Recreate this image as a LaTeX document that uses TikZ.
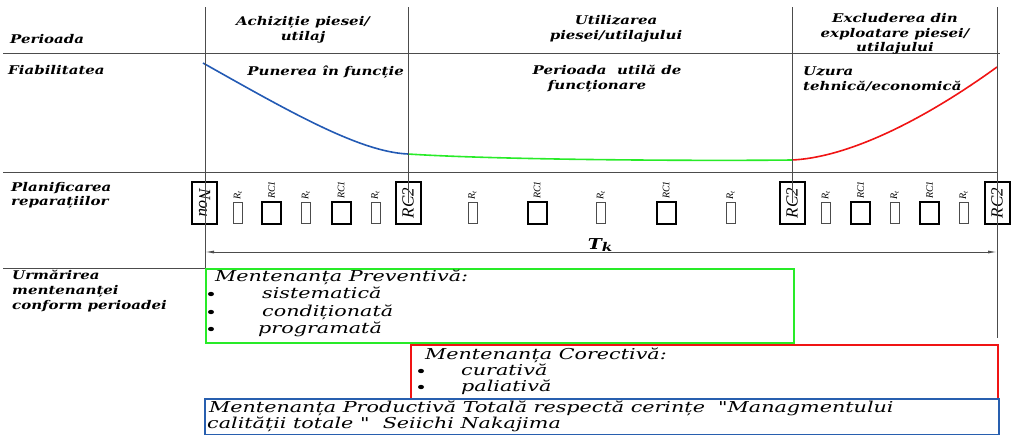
\documentclass[tikz,border=0pt]{standalone}
\usepackage{fontspec}
\usetikzlibrary{arrows.meta}
\newfontfamily\labfont[FakeStretch=1.25]{DejaVu Serif}
\newfontfamily\boxfont[FakeStretch=1.38]{DejaVu Serif}
\newfontfamily\smfont{Liberation Serif}
\definecolor{cblue}{RGB}{35,90,180}
\definecolor{cgreen}{RGB}{40,235,40}
\definecolor{cred}{RGB}{240,20,20}
\definecolor{cbbox}{RGB}{40,95,175}
\tikzset{
  lab/.style={font=\labfont\bfseries\itshape\fontsize{12}{14}\selectfont, inner sep=0pt, anchor=base west},
  labc/.style={lab, anchor=base},
  bx/.style={font=\boxfont\itshape\fontsize{15}{17}\selectfont, inner sep=0pt, anchor=base west},
  gridline/.style={draw=black!70, line width=0.9pt},
  bigbox/.style={draw, line width=2pt, minimum width=42pt, minimum height=25pt, inner sep=0pt, font=\smfont\itshape\fontsize{17}{17}\selectfont},
  rcbox/.style={draw, line width=2pt, minimum width=19pt, minimum height=22pt, inner sep=0pt},
  rtbox/.style={draw=black!70, line width=0.8pt, minimum width=9pt, minimum height=21pt, inner sep=0pt},
  smalllab/.style={font=\smfont\itshape\fontsize{10}{10}\selectfont, rotate=90, inner sep=0pt},
  curve/.style={line width=1.6pt},
  bul/.style={fill=black}
}
\begin{document}
\begin{tikzpicture}[x=1pt,y=-1pt]
\useasboundingbox (0,0) rectangle (1012,434);
% grid lines
\draw[gridline] (3,53) -- (1000,53);
\draw[gridline] (3,172) -- (998,172);
\draw[gridline] (3,268) -- (205,268);
% left labels
\node[lab] (per) at (10,43) {Perioada};
\node[lab] (fia) at (8,74) {Fiabilitatea};
\node[lab] (pla1) at (11,191) {Planificarea};
\node[lab] (pla2) at (11,205) {reparațiilor};
\node[lab] (urm1) at (12,279) {Urmărirea};
\node[lab] (urm2) at (12,294) {mentenanței};
\node[lab] (urm3) at (12,309) {conform perioadei};
% headers
\node[labc] (h1a) at (303,25) {Achiziție piesei/};
\node[labc] (h1b) at (303,40) {utilaj};
\node[labc] (h2a) at (616,24) {Utilizarea};
\node[labc] (h2b) at (616,39) {piesei/utilajului};
\node[labc] (h3a) at (895,22) {Excluderea din};
\node[labc] (h3b) at (895,37) {exploatare piesei/};
\node[labc] (h3c) at (895,51) {utilajului};
% fiabilitate row
\node[lab, anchor=base east] (f1) at (404,75) {Punerea în funcție};
\node[labc] (f2a) at (607,74) {Perioada \ utilă de};
\node[labc] (f2b) at (597,89) {funcționare};
\node[lab] (f3a) at (803,75) {Uzura};
\node[lab] (f3b) at (803,90) {tehnică/economică};
% curves
\coordinate (c0) at (203,63);
\coordinate (c1) at (408,154);
\coordinate (c2) at (792,160);
\coordinate (c3) at (997,67);
\draw[curve, cblue] (c0) .. controls (290,112) and (360,152) .. (c1);
\draw[curve, cgreen] (c1) .. controls (500,160) and (700,161) .. (c2);
\draw[curve, cred] (c2) .. controls (855,157) and (935,112) .. (c3);
% big boxes
\node[bigbox, rotate=-90] (b1) at (204.5,203) {Nou};
\node[bigbox, rotate=90] (b2) at (408,203) {RC2};
\node[bigbox, rotate=90] (b3) at (792,203) {RC2};
\node[bigbox, rotate=90] (b4) at (997,203) {RC2};
% small boxes
\foreach \x [count=\i] in {238,306,375.5,472.5,601,730.6,826,894.5,963.5}{
  \node[rtbox] (rt\i) at (\x,213) {};
  \node[smalllab] (rtl\i) at (\x,195.5) {R\textsubscript{t}};
}
\foreach \x [count=\i] in {271.5,341,537,666,860.5,929.5}{
  \node[rcbox] (rc\i) at (\x,213) {};
  \node[smalllab] (rcl\i) at (\x,190) {RC1};
}
% maintenance boxes
\node[draw=cgreen, line width=2pt, minimum width=588pt, minimum height=74pt, inner sep=0pt, anchor=north west] (prev) at (205,268) {};
\node[draw=cred, line width=2pt, minimum width=587pt, minimum height=54pt, inner sep=0pt, anchor=north west] (cor) at (410,344) {};
\node[draw=cbbox, line width=2pt, minimum width=794pt, minimum height=36pt, inner sep=0pt, anchor=north west] (tot) at (204,398) {};
% vertical lines
\coordinate (v1) at (205,7);
\coordinate (v2) at (408,7);
\coordinate (v3) at (792,7);
\coordinate (v4) at (997,7);
\coordinate (v4e) at (997,338);
\draw[gridline] (v1) -- (v1 |- b1.north);
\draw[gridline] (v2) -- (v2 |- b2.north);
\draw[gridline] (v3) -- (v3 |- b3.north);
\draw[gridline] (v4) -- (v4 |- b4.north);
\draw[gridline] (v1 |- b1.south) -- (v1 |- prev.north);
\draw[gridline] (v4 |- b4.south) -- (v4e);
% Tk arrow
\coordinate (a1) at (205,252);
\coordinate (a2) at (997,252);
\draw[gridline, {Latex[length=9pt,width=3pt]}-{Latex[length=9pt,width=3pt]}] (a1) -- (a2);
\node[labc, font=\labfont\bfseries\itshape\fontsize{15}{15}\selectfont] (tk) at (600,249) {T\raisebox{-2pt}{\fontsize{12}{12}\selectfont k}};
% box texts
\node[bx] (p0) at (215,281) {Mentenanța Preventivă:};
\node[bx] (p1) at (262,298) {sistematică};
\node[bx] (p2) at (262,316) {condiționată};
\node[bx] (p3) at (258,333) {programată};
\foreach \y in {294,312,329}{\fill[bul] (211,\y) ellipse (3pt and 2.2pt);}
\node[bx] (k0) at (425,359) {Mentenanța Corectivă:};
\node[bx] (k1) at (461,375) {curativă};
\node[bx] (k2) at (461,391) {paliativă};
\foreach \y in {371,387}{\fill[bul] (421,\y) ellipse (3pt and 2.2pt);}
\node[bx] (t1) at (209,412) {Mentenanța Productivă Totală respectă cerințe \ "Managmentului};
\node[bx] (t2) at (207,428) {calității totale " \ Seiichi Nakajima};
\end{tikzpicture}
\end{document}
